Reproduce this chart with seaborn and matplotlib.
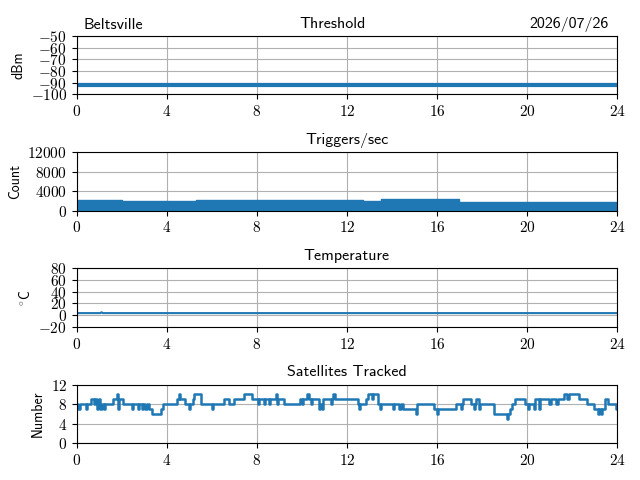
import numpy as np
import pandas as pd
import matplotlib
matplotlib.use("Agg")
import matplotlib.pyplot as plt
import seaborn as sns
from matplotlib.ticker import FuncFormatter

plt.rcParams['mathtext.fontset'] = 'cm'
plt.rcParams['font.family'] = ['cmss10', 'DejaVu Sans']
plt.rcParams['axes.unicode_minus'] = False

# ---- data ----
hours_ticks = [0, 4, 8, 12, 16, 20, 24]

thr_t = [0.0, 24.0]
thr_v = [-92.0, -92.0]

trig_t = [0.0, 2.0, 3.5, 5.3, 6.1, 12.0, 12.7, 13.5, 17.0, 24.0]
trig_v = [2150, 2050, 2000, 2200, 2100, 2150, 2050, 2450, 1800, 1800]

temp_t = [0.0, 1.05, 1.1, 1.15, 24.0]
temp_v = [3.5, 3.5, 5.0, 3.5, 3.5]

sat_t = [0.00, 0.05, 0.12, 0.40, 0.46, 0.62, 0.75, 0.80, 0.88, 0.92, 1.00, 1.05, 1.12, 1.20, 1.25,
         1.60, 1.80, 1.84, 1.88, 2.05, 2.45, 2.50, 2.70, 2.75, 2.88, 2.93, 3.05, 3.10, 3.22, 3.35,
         3.72, 3.82, 4.45, 4.55, 4.60, 4.80, 5.00, 5.05, 5.15, 5.20, 5.50, 6.00, 6.05, 6.55, 6.75,
         7.00, 7.45, 7.80, 8.05, 8.10, 8.30, 8.35, 8.55, 8.60, 8.85, 8.90, 8.95, 9.20, 9.90, 10.00,
         10.05, 10.25, 10.30, 10.40, 10.45, 10.75, 10.80, 10.90, 10.95, 11.30, 11.35, 11.40, 11.45,
         12.50, 12.55, 12.60, 12.85, 12.95, 13.10, 13.15, 13.40, 13.45, 13.50, 14.05, 14.10, 14.30,
         14.40, 14.50, 15.05, 15.10, 15.85, 16.00, 16.05, 16.85, 17.05, 17.10, 17.15, 17.50, 17.65,
         17.70, 17.75, 17.85, 17.90, 18.55, 19.10, 19.15, 19.25, 19.35, 19.45, 19.90, 20.05, 20.10,
         20.30, 20.35, 20.55, 20.60, 21.00, 21.05, 21.30, 21.40, 21.65, 21.80, 21.85, 22.30, 22.65,
         23.00, 23.15, 23.20, 23.30, 23.35, 23.45, 23.60, 23.95, 24.00]
sat_v = [8, 7, 8, 7, 8, 9, 8, 9, 7, 8, 9, 7, 8, 7, 8,
         9, 10, 7, 9, 8, 7, 8, 7, 8, 7, 8, 7, 8, 7, 6,
         7, 8, 9, 10, 9, 8, 7, 8, 9, 10, 8, 7, 8, 9, 8,
         9, 10, 9, 8, 9, 8, 9, 8, 9, 10, 8, 9, 8, 9, 8,
         9, 10, 9, 8, 9, 7, 8, 7, 9, 8, 9, 10, 9,
         8, 7, 8, 9, 10, 9, 10, 8, 7, 8, 7, 8, 7,
         8, 7, 6, 8, 7, 6, 7, 8, 7, 8, 9, 8, 7,
         8, 9, 7, 8, 6, 5, 6, 7, 8, 9, 8, 7, 8,
         7, 9, 7, 9, 8, 9, 8, 9, 10, 9, 10, 9, 8,
         7, 6, 7, 6, 7, 9, 8, 7, 7]

color = '#1f77b4'
TITLE = 11.5
LABEL = 10
TICK = 11

fig, axes = plt.subplots(4, 1, figsize=(6.4, 4.8), dpi=100)
fig.subplots_adjust(left=0.120, right=0.964, top=0.925, bottom=0.077, hspace=0.99)

fmt = FuncFormatter(lambda v, p: r'$%d$' % v)

# Threshold
ax = axes[0]
sns.lineplot(x=thr_t, y=thr_v, ax=ax, color=color, linewidth=3, estimator=None)
ax.set_ylim(-100, -50)
ax.set_yticks([-100, -90, -80, -70, -60, -50])
ax.set_ylabel('dBm', fontsize=LABEL)
ax.set_title('Threshold', fontsize=TITLE, x=0.473)
ax.text(0.013, 1.06, 'Beltsville', transform=ax.transAxes, fontsize=TITLE, ha='left', va='bottom')
ax.text(0.985, 1.06, '2026/07/26', transform=ax.transAxes, fontsize=TITLE, ha='right', va='bottom')

# Triggers
ax = axes[1]
ax.fill_between(trig_t, 0, trig_v, step='post', color=color, linewidth=0)
sns.lineplot(x=trig_t, y=trig_v, ax=ax, color=color, linewidth=1, drawstyle='steps-post', estimator=None)
ax.set_ylim(0, 12000)
ax.set_yticks([0, 4000, 8000, 12000])
ax.set_ylabel('Count', fontsize=LABEL)
ax.set_title('Triggers/sec', fontsize=TITLE)

# Temperature
ax = axes[2]
sns.lineplot(x=temp_t, y=temp_v, ax=ax, color=color, linewidth=1.5, estimator=None)
ax.set_ylim(-20, 80)
ax.set_yticks([-20, 0, 20, 40, 60, 80])
ax.set_ylabel(r'$^{\circ}$C', fontsize=LABEL)
ax.set_title('Temperature', fontsize=TITLE)

# Satellites
ax = axes[3]
sns.lineplot(x=sat_t, y=sat_v, ax=ax, color=color, linewidth=1.8, drawstyle='steps-post', estimator=None)
ax.set_ylim(0, 12)
ax.set_yticks([0, 4, 8, 12])
ax.set_ylabel('Number', fontsize=LABEL)
ax.set_title('Satellites Tracked', fontsize=TITLE)

for ax in axes:
    ax.set_xlim(0, 24)
    ax.set_xticks(hours_ticks)
    ax.xaxis.set_major_formatter(fmt)
    ax.yaxis.set_major_formatter(fmt)
    ax.grid(True, color='#b0b0b0', linewidth=0.8)
    ax.set_axisbelow(True)
    ax.tick_params(labelsize=TICK)

fig.savefig('out.png', dpi=100)
